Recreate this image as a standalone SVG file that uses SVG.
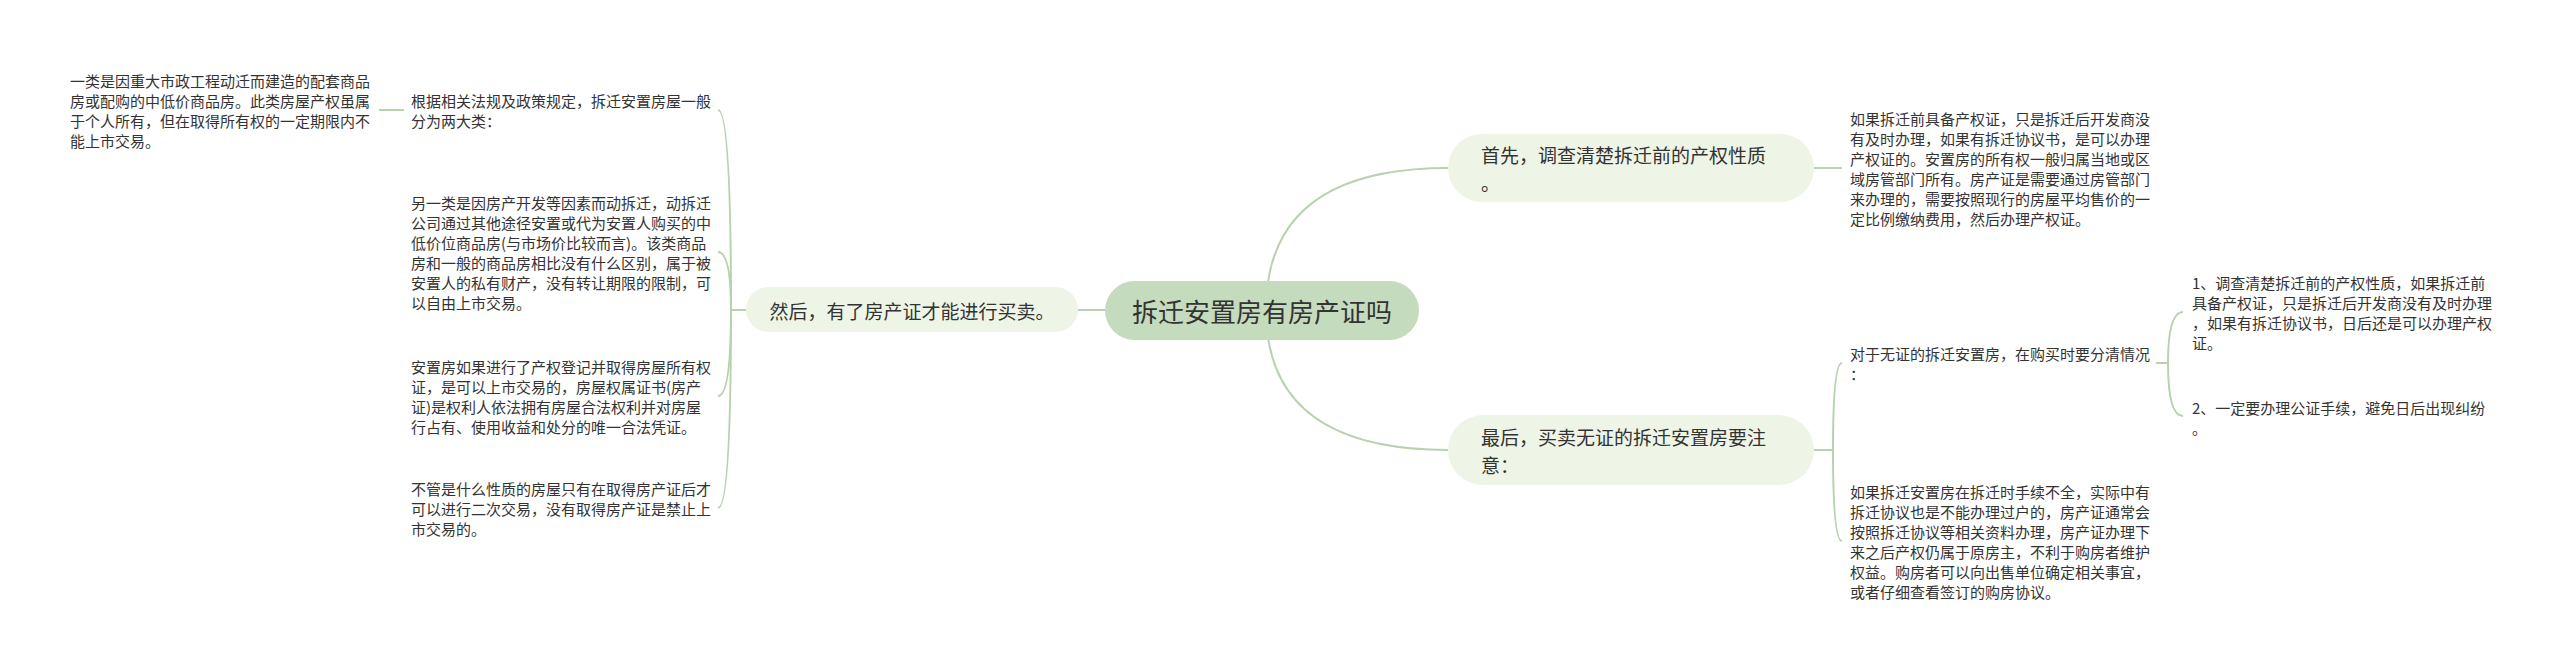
<svg xmlns="http://www.w3.org/2000/svg" width="2560" height="667" viewBox="0 0 2560 667">
<style>
.t{font-family:"Noto Sans CJK SC","Noto Sans",sans-serif;fill:#333;dominant-baseline:central}
.leaf{font-size:15px}
.l1{font-size:19px}
.root{font-size:26px}
.c{fill:none;stroke:#b8d2b0;stroke-width:2}
.p1{fill:#eef5e6}
.p0{fill:#c4dbbd}
</style>
<rect width="2560" height="667" fill="#fff"/>
<g id="connectors">
<path class="c" d="M1105 310 L1078 310"/>
<path class="c" d="M1266 310 Q1266 168 1448 168"/>
<path class="c" d="M1266 310 Q1266 450 1448 450"/>
<path class="c" d="M746 310 L731 310"/>
<path class="c" d="M731 310 Q731 110 718 110"/>
<path class="c" d="M731 310 Q731 252 718 252"/>
<path class="c" d="M731 310 Q731 396 718 396"/>
<path class="c" d="M731 310 Q731 508 718 508"/>
<path class="c" d="M404 110 L379 110"/>
<path class="c" d="M1814 168 L1842 168"/>
<path class="c" d="M1814 450 L1833 450"/>
<path class="c" d="M1833 450 Q1833 363 1842 363"/>
<path class="c" d="M1833 450 Q1833 541 1842 541"/>
<path class="c" d="M2156 363 L2168 363"/>
<path class="c" d="M2168 363 Q2168 312 2183 312"/>
<path class="c" d="M2168 363 Q2168 416 2183 416"/>
</g>
<g id="root">
<rect class="p0" x="1105" y="281" width="314" height="59" rx="29.5"/>
<text class="t root" x="1262" y="310" text-anchor="middle">拆迁安置房有房产证吗</text>
</g>
<g id="n-then">
<rect class="p1" x="746" y="287" width="332" height="45" rx="22.5"/>
<text class="t l1" x="912" y="310" text-anchor="middle">然后，有了房产证才能进行买卖。</text>
</g>
<g id="n-first">
<rect class="p1" x="1448" y="134" width="366" height="68" rx="34"/>
<text class="t l1"><tspan x="1481" y="154">首先，调查清楚拆迁前的产权性质</tspan><tspan x="1481" y="182">。</tspan></text>
</g>
<g id="n-last">
<rect class="p1" x="1448" y="415" width="366" height="70" rx="35"/>
<text class="t l1"><tspan x="1481" y="436">最后，买卖无证的拆迁安置房要注</tspan><tspan x="1481" y="464">意：</tspan></text>
</g>
<g id="n-basis">
<text class="t leaf"><tspan x="411" y="100">根据相关法规及政策规定，拆迁安置房屋一般</tspan><tspan x="411" y="120">分为两大类：</tspan></text>
</g>
<g id="n-type1">
<text class="t leaf"><tspan x="70" y="80">一类是因重大市政工程动迁而建造的配套商品</tspan><tspan x="70" y="100">房或配购的中低价商品房。此类房屋产权虽属</tspan><tspan x="70" y="120">于个人所有，但在取得所有权的一定期限内不</tspan><tspan x="70" y="140">能上市交易。</tspan></text>
</g>
<g id="n-type2">
<text class="t leaf"><tspan x="411" y="202">另一类是因房产开发等因素而动拆迁，动拆迁</tspan><tspan x="411" y="222">公司通过其他途径安置或代为安置人购买的中</tspan><tspan x="411" y="242">低价位商品房(与市场价比较而言)。该类商品</tspan><tspan x="411" y="262">房和一般的商品房相比没有什么区别，属于被</tspan><tspan x="411" y="282">安置人的私有财产，没有转让期限的限制，可</tspan><tspan x="411" y="302">以自由上市交易。</tspan></text>
</g>
<g id="n-cert">
<text class="t leaf"><tspan x="411" y="366">安置房如果进行了产权登记并取得房屋所有权</tspan><tspan x="411" y="386">证，是可以上市交易的，房屋权属证书(房产</tspan><tspan x="411" y="406">证)是权利人依法拥有房屋合法权利并对房屋</tspan><tspan x="411" y="426">行占有、使用收益和处分的唯一合法凭证。</tspan></text>
</g>
<g id="n-any">
<text class="t leaf"><tspan x="411" y="488">不管是什么性质的房屋只有在取得房产证后才</tspan><tspan x="411" y="508">可以进行二次交易，没有取得房产证是禁止上</tspan><tspan x="411" y="528">市交易的。</tspan></text>
</g>
<g id="n-first-leaf">
<text class="t leaf"><tspan x="1850" y="118">如果拆迁前具备产权证，只是拆迁后开发商没</tspan><tspan x="1850" y="138">有及时办理，如果有拆迁协议书，是可以办理</tspan><tspan x="1850" y="158">产权证的。安置房的所有权一般归属当地或区</tspan><tspan x="1850" y="178">域房管部门所有。房产证是需要通过房管部门</tspan><tspan x="1850" y="198">来办理的，需要按照现行的房屋平均售价的一</tspan><tspan x="1850" y="218">定比例缴纳费用，然后办理产权证。</tspan></text>
</g>
<g id="n-nocert">
<text class="t leaf"><tspan x="1850" y="353">对于无证的拆迁安置房，在购买时要分清情况</tspan><tspan x="1850" y="373">：</tspan></text>
</g>
<g id="n-item1">
<text class="t leaf"><tspan x="2192" y="282">1、调查清楚拆迁前的产权性质，如果拆迁前</tspan><tspan x="2192" y="302">具备产权证，只是拆迁后开发商没有及时办理</tspan><tspan x="2192" y="322">，如果有拆迁协议书，日后还是可以办理产权</tspan><tspan x="2192" y="342">证。</tspan></text>
</g>
<g id="n-item2">
<text class="t leaf"><tspan x="2192" y="407">2、一定要办理公证手续，避免日后出现纠纷</tspan><tspan x="2192" y="427">。</tspan></text>
</g>
<g id="n-incomplete">
<text class="t leaf"><tspan x="1850" y="491">如果拆迁安置房在拆迁时手续不全，实际中有</tspan><tspan x="1850" y="511">拆迁协议也是不能办理过户的，房产证通常会</tspan><tspan x="1850" y="531">按照拆迁协议等相关资料办理，房产证办理下</tspan><tspan x="1850" y="551">来之后产权仍属于原房主，不利于购房者维护</tspan><tspan x="1850" y="571">权益。购房者可以向出售单位确定相关事宜，</tspan><tspan x="1850" y="591">或者仔细查看签订的购房协议。</tspan></text>
</g>
</svg>
